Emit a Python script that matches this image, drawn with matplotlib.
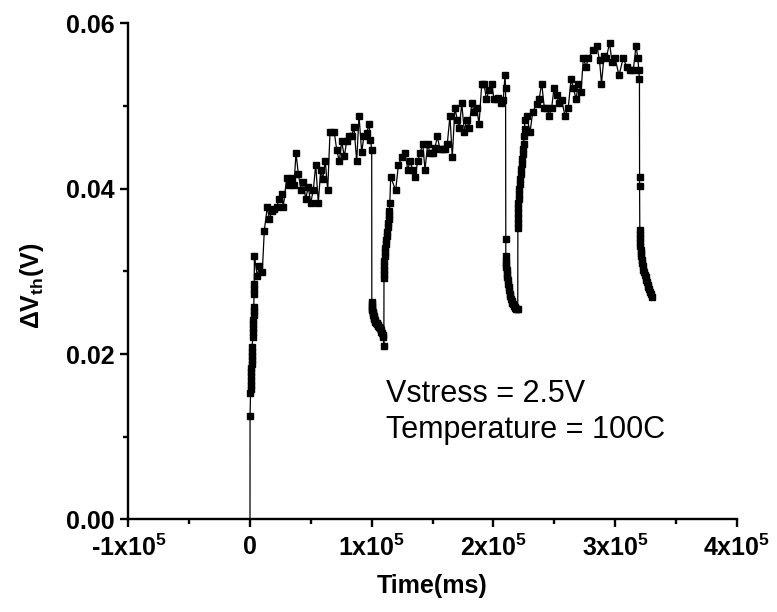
import numpy as np
import matplotlib.pyplot as plt
from matplotlib.ticker import MultipleLocator, FixedLocator, FixedFormatter

plt.rcParams['font.family'] = ['Liberation Sans', 'DejaVu Sans']
plt.rcParams['mathtext.fontset'] = 'custom'
plt.rcParams['mathtext.rm'] = 'Liberation Sans:bold'
plt.rcParams['mathtext.it'] = 'Liberation Sans:bold'
plt.rcParams['mathtext.bf'] = 'Liberation Sans:bold'

# stress 1 (0 - 1e5 ms)
stress1_t = [0, 50, 400, 500, 600, 800, 1000, 1100, 1200, 1300, 1400, 1500, 1600, 1700,
             2400, 2500, 2600, 2700, 2800, 2900, 3000, 3100, 3300, 3400, 3500, 3600,
             6000, 7640, 10100, 11750, 14220, 15860, 18080, 19970, 21940, 24080, 26050,
             27360, 30160, 32290, 34270, 36150, 37800, 39690, 41910, 43800, 45770, 47900,
             49880, 52010, 53990, 56120, 58090, 59740, 61870, 63850, 65740, 69270, 71240,
             73380, 75350, 77490, 79460, 81350, 83570, 85460, 87680, 89570, 91780, 93670,
             95890, 97780, 99000, 100000]
stress1_v = [0.0, 0.0125, 0.0153, 0.0158, 0.0163, 0.0167, 0.0173, 0.0178, 0.0183, 0.0188,
             0.0193, 0.0198, 0.0203, 0.0209, 0.0221, 0.0226, 0.0231, 0.0236, 0.0241, 0.0247,
             0.0252, 0.0257, 0.0273, 0.0279, 0.0285, 0.0319,
             0.0294, 0.0306, 0.0299, 0.0349, 0.0378, 0.0363, 0.0373, 0.0375, 0.0378, 0.0388,
             0.0394, 0.0378, 0.0413, 0.0404, 0.0413, 0.0404, 0.0443, 0.0418, 0.0398, 0.0408,
             0.0388, 0.0402, 0.0383, 0.0398, 0.0429, 0.0383, 0.0422, 0.0412, 0.0433, 0.0398,
             0.0468, 0.0468, 0.0447, 0.0433, 0.0457, 0.0439, 0.0457, 0.0464, 0.0464, 0.0474,
             0.0433, 0.0488, 0.0444, 0.0464, 0.0467, 0.0478, 0.0459, 0.0447]

# relax 1 (1e5 - 1.1e5 ms)
relax1_t = [100100, 100200, 100300, 100400, 100500, 100700, 100900, 101200, 101500, 101800,
            102200, 102600, 103000, 103500, 104000, 104500, 105000, 105500, 106000, 106500,
            107000, 107500, 108000, 108500, 109000, 109500, 110000]
relax1_v = [0.0263, 0.0260, 0.0257, 0.0255, 0.0253, 0.0251, 0.0249, 0.0247, 0.0246, 0.0244,
            0.0242, 0.0241, 0.0239, 0.0238, 0.0237, 0.0236, 0.0235, 0.0234, 0.0233, 0.0232,
            0.0231, 0.0229, 0.0227, 0.0225, 0.0223, 0.0221, 0.0210]

# stress 2 (1.1e5 - 2.1e5 ms)
stress2_t = [110050, 110100, 110200, 110300, 110500, 110700, 111000, 111300, 111600, 112000,
             112400, 112800, 113200, 113600, 114000, 114300, 114600, 114900,
             115600, 119700, 121900, 124700, 127400, 129600, 131500, 133700, 135600, 137800,
             139700, 141900, 143800, 146000, 147900, 150100, 152000, 153900, 156100, 158300,
             160200, 162100, 164300, 166200, 168400, 170300, 172000, 174000, 176100, 178100,
             180000, 182200, 184100, 186300, 188200, 190400, 192300, 194200, 196400, 198600,
             200500, 202700, 204000, 206000, 208100, 209500, 210000]
stress2_v = [0.0292, 0.0297, 0.0302, 0.0307, 0.0312, 0.0318, 0.0323, 0.0328, 0.0333, 0.0338,
             0.0343, 0.0348, 0.0353, 0.0358, 0.0363, 0.0368, 0.0373, 0.0383,
             0.0414, 0.0398, 0.0428, 0.0438, 0.0443, 0.0423, 0.0433, 0.0423, 0.0414, 0.0433,
             0.0443, 0.0454, 0.0423, 0.0454, 0.0443, 0.0443, 0.0449, 0.0463, 0.0448, 0.0448,
             0.0448, 0.0454, 0.0488, 0.0438, 0.0498, 0.0483, 0.0473, 0.0503, 0.0469, 0.0483,
             0.0473, 0.0503, 0.0493, 0.0497, 0.0478, 0.0527, 0.0527, 0.0508, 0.0519, 0.0527,
             0.0508, 0.0508, 0.0509, 0.0503, 0.0507, 0.0537, 0.0522]

# relax 2 (2.1e5 - 2.2e5 ms)
relax2_t = [210100, 210200, 210300, 210400, 210600, 210800, 211000, 211300, 211600, 212000,
            212400, 212800, 213300, 213800, 214400, 215000, 215600, 216200, 216800, 217400,
            218000, 218600, 219200, 220000]
relax2_v = [0.0339, 0.0318, 0.0313, 0.0309, 0.0305, 0.0301, 0.0297, 0.0293, 0.0289, 0.0285,
            0.0281, 0.0277, 0.0273, 0.0270, 0.0267, 0.0264, 0.0262, 0.0260, 0.0258, 0.0257,
            0.0256, 0.0255, 0.0255, 0.0255]

# stress 3 (2.2e5 - 3.2e5 ms)
stress3_t = [220050, 220100, 220200, 220300, 220400, 220600, 220800, 221000, 221300, 221600,
             222000, 222400, 222800, 223200, 223600, 224000, 224400, 224800, 225200, 225600,
             226000, 227400, 230100, 232300, 235600, 237500, 239700, 241800, 243800, 245900,
             247900, 249800, 252000, 253900, 256100, 258800, 261500, 263800, 265700, 267900,
             269800, 272000, 273900, 276100, 278000, 282100, 284900, 287200, 288800, 290900,
             292800, 295400, 297500, 299900, 303200, 306700, 309500, 312200, 314900, 317200,
             318600, 319500, 320000]
stress3_v = [0.0352, 0.0358, 0.0364, 0.0370, 0.0376, 0.0382, 0.0388, 0.0394, 0.0400, 0.0406,
             0.0412, 0.0418, 0.0424, 0.0430, 0.0436, 0.0442, 0.0448, 0.0454, 0.0463, 0.0472,
             0.0483, 0.0488, 0.0468, 0.0493, 0.0502, 0.0508, 0.0527, 0.0498, 0.0498, 0.0488,
             0.0498, 0.0522, 0.0513, 0.0503, 0.0507, 0.0488, 0.0498, 0.0532, 0.0522, 0.0508,
             0.0527, 0.0517, 0.0558, 0.0547, 0.0558, 0.0568, 0.0573, 0.0555, 0.0527, 0.0560,
             0.0558, 0.0576, 0.0553, 0.0558, 0.0537, 0.0558, 0.0547, 0.0543, 0.0543, 0.0573,
             0.0558, 0.0543, 0.0532]

# relax 3 (3.2e5 - 3.3e5 ms)
relax3_t = [320050, 320100, 320200, 320300, 320400, 320600, 320800, 321000, 321300, 321600,
            322000, 322400, 322800, 323300, 323800, 324400, 325000, 325600, 326200, 326800,
            327400, 328000, 328800, 329600, 330000]
relax3_v = [0.0414, 0.0403, 0.0350, 0.0345, 0.0340, 0.0335, 0.0330, 0.0326, 0.0322, 0.0318,
            0.0314, 0.0310, 0.0306, 0.0302, 0.0299, 0.0296, 0.0293, 0.0290, 0.0287, 0.0284,
            0.0281, 0.0278, 0.0275, 0.0272, 0.0269]

t = np.array(stress1_t + relax1_t + stress2_t + relax2_t + stress3_t + relax3_t)
v = np.array(stress1_v + relax1_v + stress2_v + relax2_v + stress3_v + relax3_v)

xticks = [-1e5, 0, 1e5, 2e5, 3e5, 4e5]
xticklabels = ['-1x10$^{5}$', '0', '1x10$^{5}$', '2x10$^{5}$', '3x10$^{5}$', '4x10$^{5}$']

fig = plt.figure(figsize=(7.77, 6.12), dpi=100)
ax = fig.add_axes([0.1651, 0.1513, 0.7832, 0.8108])

ax.plot(t, v, color='k', lw=0.9)
ax.plot(t[1:], v[1:], 's', color='k', ms=4, mec='k')

ax.set_xlim(-1e5, 4e5)
ax.set_ylim(0, 0.06)
ax.xaxis.set_major_locator(FixedLocator(xticks))
ax.xaxis.set_major_formatter(FixedFormatter(xticklabels))
ax.xaxis.set_minor_locator(MultipleLocator(5e4))
ax.yaxis.set_major_locator(MultipleLocator(0.02))
ax.yaxis.set_minor_locator(MultipleLocator(0.01))
ax.yaxis.set_major_formatter(plt.FormatStrFormatter('%.2f'))

for s in ['top', 'right']:
    ax.spines[s].set_visible(False)
for s in ['left', 'bottom']:
    ax.spines[s].set_linewidth(1.7)
ax.tick_params(which='major', direction='out', length=6, width=1.7, labelsize=18)
ax.tick_params(axis='y', which='major', pad=4)
ax.tick_params(axis='x', which='major', pad=5)
ax.tick_params(which='minor', direction='out', length=3.8, width=1.7)
for lab in ax.get_yticklabels() + ax.get_xticklabels():
    lab.set_fontweight('bold')

ax.set_xlabel('Time(ms)', fontsize=18, fontweight='bold', labelpad=9)
ax.set_ylabel(r'$\Delta$V$_{th}$(V)', fontsize=18, fontweight='bold')
ax.yaxis.set_label_coords(-0.135, 0.47)

ax.text(111500, 0.0142, 'Vstress = 2.5V', fontsize=22, va='baseline', ha='left')
ax.text(111500, 0.0098, 'Temperature = 100C', fontsize=22, va='baseline', ha='left')

fig.savefig('out.png', dpi=100)
